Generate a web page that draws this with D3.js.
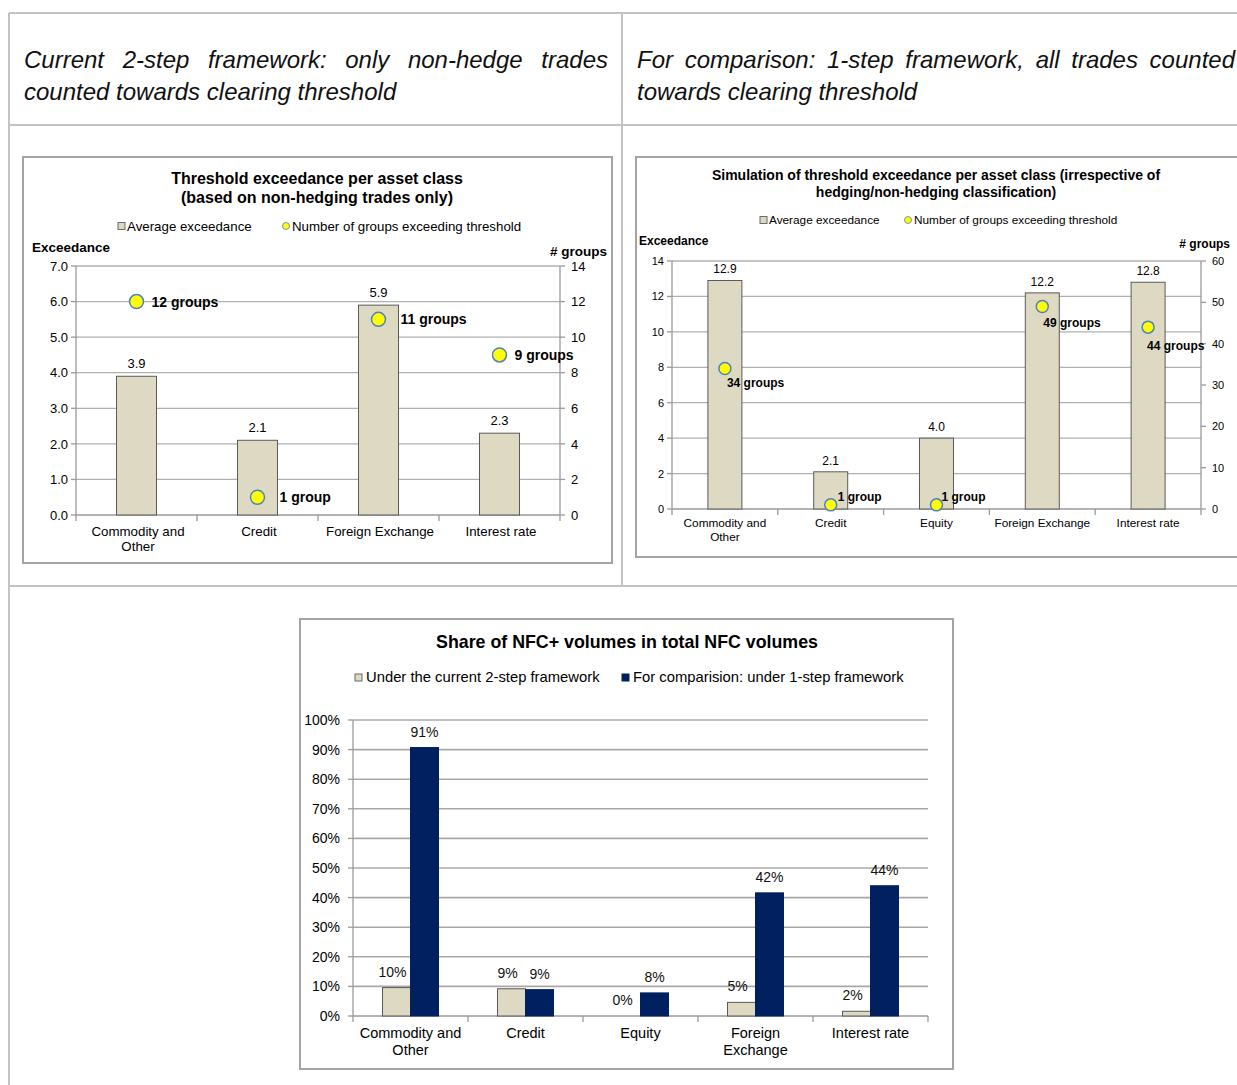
<!DOCTYPE html>
<html>
<head>
<meta charset="utf-8">
<script src="https://cdn.jsdelivr.net/npm/d3@7"></script>
<style>
  html, body { margin: 0; padding: 0; background: #fff; }
  svg { display: block; font-family: "Liberation Sans", Arial, sans-serif; }
</style>
</head>
<body>
<script>
// ---------------- DATA ----------------
const headerLeft = ["Current 2-step framework: only non-hedge trades", "counted towards clearing threshold"];
const headerRight = ["For comparison: 1-step framework, all trades counted", "towards clearing threshold"];

const title1 = ["Threshold exceedance per asset class", "(based on non-hedging trades only)"];
const cats1 = ["Commodity and Other", "Credit", "Foreign Exchange", "Interest rate"];
const exceed1 = [3.9, 2.1, 5.9, 2.3];
const groups1 = [12, 1, 11, 9];
const yTicks1 = [0, 1, 2, 3, 4, 5, 6, 7];
const y2Ticks1 = [0, 2, 4, 6, 8, 10, 12, 14];

const title2 = ["Simulation of threshold exceedance per asset class (irrespective of", "hedging/non-hedging classification)"];
const cats2 = ["Commodity and Other", "Credit", "Equity", "Foreign Exchange", "Interest rate"];
const exceed2 = [12.9, 2.1, 4.0, 12.2, 12.8];
const groups2 = [34, 1, 1, 49, 44];
const yTicks2 = [0, 2, 4, 6, 8, 10, 12, 14];
const y2Ticks2 = [0, 10, 20, 30, 40, 50, 60];

const legendCombo = ["Average exceedance", "Number of groups exceeding threshold"];

const title3 = "Share of NFC+ volumes in total NFC volumes";
const cats3 = ["Commodity and Other", "Credit", "Equity", "Foreign Exchange", "Interest rate"];
const seriesNames3 = ["Under the current 2-step framework", "For comparision: under 1-step framework"];
const share2step = [0.096, 0.092, 0.0, 0.046, 0.016];
const share1step = [0.907, 0.089, 0.078, 0.416, 0.44];
const yTicks3 = [0, 0.1, 0.2, 0.3, 0.4, 0.5, 0.6, 0.7, 0.8, 0.9, 1.0];

// ---------------- STYLE ----------------
const TAN = "#ddd9c3", NAVY = "#002060", GRID = "#b0b0b0", BAR_STROKE = "#5a5a5a";
const YELLOW = "#ffff00", DOT_STROKE = "#4f81bd", TEXT = "#000";

const svg = d3.select("body").append("svg").attr("width", 1237).attr("height", 1085);

// ---------------- TABLE FRAME ----------------
const frame = svg.append("g").attr("stroke", "#c3c3c3").attr("stroke-width", 2);
[[9, 13, 1237, 13], [9, 13, 9, 1085], [622, 13, 622, 586], [9, 125, 1237, 125], [9, 586, 1237, 586]]
  .forEach(([x1, y1, x2, y2]) => frame.append("line").attr("x1", x1).attr("y1", y1).attr("x2", x2).attr("y2", y2));

function justified(lines, x, width, y0, lh, size) {
  const g = svg.append("g").attr("font-size", size).attr("font-style", "italic").attr("fill", "#111");
  lines.forEach((line, i) => {
    const words = line.split(" ");
    const y = y0 + i * lh;
    const isLast = i === lines.length - 1;
    const nodes = words.map(w => g.append("text").attr("y", y).text(w));
    const widths = nodes.map(n => n.node().getComputedTextLength());
    const total = d3.sum(widths);
    const gap = isLast ? size * 0.278 : (width - total) / (words.length - 1);
    let cx = x;
    nodes.forEach((n, k) => { n.attr("x", cx); cx += widths[k] + gap; });
  });
}
justified(headerLeft, 24, 584, 68, 31.5, 24);
justified(headerRight, 637, 598, 68, 31.5, 24);

// wrap helper
function wrapLabel(sel, text, maxW, lh) {
  const words = text.split(" ");
  const lines = [];
  let cur = [];
  const probe = sel.append("tspan");
  words.forEach(w => {
    const test = cur.concat([w]).join(" ");
    probe.text(test);
    if (probe.node().getComputedTextLength() > maxW && cur.length) { lines.push(cur.join(" ")); cur = [w]; }
    else cur.push(w);
  });
  lines.push(cur.join(" "));
  probe.remove();
  lines.forEach((l, i) => sel.append("tspan").attr("x", sel.attr("x")).attr("dy", i === 0 ? 0 : lh).text(l));
}

// ---------------- COMBO CHART ----------------
function comboChart(o) {
  const g = svg.append("g");
  g.append("rect").attr("x", o.box[0]).attr("y", o.box[1]).attr("width", o.box[2]).attr("height", o.box[3])
    .attr("fill", "#fff").attr("stroke", "#a3a3a3").attr("stroke-width", 2);
  o.title.forEach((t, i) => g.append("text").attr("x", o.titleX).attr("y", o.titleY + i * o.titleLH)
    .attr("text-anchor", "middle").attr("font-weight", "bold").attr("font-size", o.titleSize).text(t));
  // legend
  const lg = g.append("g").attr("font-size", o.legSize);
  lg.append("rect").attr("x", o.leg[0]).attr("y", o.legY - 3.5).attr("width", 7).attr("height", 7)
    .attr("fill", TAN).attr("stroke", "#6b6b6b").attr("stroke-width", 1);
  lg.append("text").attr("x", o.leg[0] + 9).attr("y", o.legY + o.legSize * 0.36).text(legendCombo[0]);
  lg.append("circle").attr("cx", o.leg[1]).attr("cy", o.legY).attr("r", 3.5).attr("fill", YELLOW).attr("stroke", DOT_STROKE).attr("stroke-width", 0.8);
  lg.append("text").attr("x", o.leg[1] + 6).attr("y", o.legY + o.legSize * 0.36).text(legendCombo[1]);
  // axis titles
  g.append("text").attr("x", o.axTitle[0]).attr("y", o.axTitle[1]).attr("font-weight", "bold").attr("font-size", o.axTitleSize).text("Exceedance");
  g.append("text").attr("x", o.axTitle[2]).attr("y", o.axTitle[3]).attr("text-anchor", "end").attr("font-weight", "bold").attr("font-size", o.axTitleSize).text("# groups");

  const x = d3.scaleBand().domain(o.cats).range([o.left, o.right]);
  const y = d3.scaleLinear().domain([0, d3.max(o.yTicks)]).range([o.bottom, o.top]);
  const y2 = d3.scaleLinear().domain([0, d3.max(o.y2Ticks)]).range([o.bottom, o.top]);

  // gridlines
  g.append("g").selectAll("line").data(o.yTicks.slice(1)).join("line")
    .attr("x1", o.left).attr("x2", o.right).attr("y1", d => y(d)).attr("y2", d => y(d))
    .attr("stroke", GRID).attr("stroke-width", 1.3);

  const ax = g.append("g").attr("stroke", "#9a9a9a").attr("stroke-width", 1.3);
  ax.append("line").attr("x1", o.left).attr("x2", o.left).attr("y1", o.top).attr("y2", o.bottom);
  ax.append("line").attr("x1", o.right).attr("x2", o.right).attr("y1", o.top).attr("y2", o.bottom);
  ax.append("line").attr("x1", o.left).attr("x2", o.right).attr("y1", o.bottom).attr("y2", o.bottom);
  o.yTicks.forEach(t => ax.append("line").attr("x1", o.left - 5).attr("x2", o.left).attr("y1", y(t)).attr("y2", y(t)));
  o.y2Ticks.forEach(t => ax.append("line").attr("x1", o.right).attr("x2", o.right + 5).attr("y1", y2(t)).attr("y2", y2(t)));
  o.cats.forEach(c => ax.append("line").attr("x1", x(c)).attr("x2", x(c)).attr("y1", o.bottom).attr("y2", o.bottom + 6));
  ax.append("line").attr("x1", o.right).attr("x2", o.right).attr("y1", o.bottom).attr("y2", o.bottom + 6);

  const tl = g.append("g").attr("font-size", o.tickSize).attr("fill", TEXT);
  o.yTicks.forEach(t => tl.append("text").attr("x", o.left - 8).attr("y", y(t) + o.tickSize * 0.36)
    .attr("text-anchor", "end").text(d3.format(o.yFmt)(t)));
  o.y2Ticks.forEach(t => tl.append("text").attr("x", o.right + 11).attr("y", y2(t) + o.tickSize * 0.36).text(t));

  // x labels
  o.cats.forEach(c => {
    const t = g.append("text").attr("x", x(c) + x.bandwidth() / 2 + o.xLabShift).attr("y", o.xLabY)
      .attr("text-anchor", "middle").attr("font-size", o.xLabSize);
    wrapLabel(t, c, x.bandwidth() - 6, o.xLabLH);
  });

  const cx = c => x(c) + x.bandwidth() / 2;
  // bars
  g.append("g").selectAll("rect").data(o.cats).join("rect")
    .attr("x", c => cx(c) - o.barW / 2).attr("width", o.barW)
    .attr("y", (c, i) => y(o.bars[i])).attr("height", (c, i) => o.bottom - y(o.bars[i]))
    .attr("fill", TAN).attr("stroke", BAR_STROKE).attr("stroke-width", 1);
  g.append("g").selectAll("text").data(o.cats).join("text")
    .attr("x", cx).attr("y", (c, i) => y(o.bars[i]) - o.valOff)
    .attr("text-anchor", "middle").attr("font-size", o.valSize).text((c, i) => d3.format(".1f")(o.bars[i]));
  // dots
  g.append("g").selectAll("circle").data(o.cats).join("circle")
    .attr("cx", cx).attr("cy", (c, i) => y2(o.dots[i])).attr("r", o.dotR)
    .attr("fill", YELLOW).attr("stroke", DOT_STROKE).attr("stroke-width", 1.5);
  g.append("g").selectAll("text").data(o.cats).join("text")
    .attr("x", (c, i) => cx(c) + o.dotLabOff(i, y2(o.dots[i]) >= y(o.bars[i]))[0])
    .attr("y", (c, i) => y2(o.dots[i]) + o.dotLabOff(i, y2(o.dots[i]) >= y(o.bars[i]))[1])
    .attr("font-weight", "bold").attr("font-size", o.dotLabSize)
    .text((c, i) => o.dots[i] + (o.dots[i] === 1 ? " group" : " groups"));
}

comboChart({
  box: [23, 157, 589, 406], title: title1, titleX: 317, titleY: 184, titleLH: 19, titleSize: 16,
  leg: [118, 286], legY: 226, legSize: 13.3, axTitle: [32, 252, 607, 256], axTitleSize: 13.5,
  cats: cats1, bars: exceed1, dots: groups1, yTicks: yTicks1, y2Ticks: y2Ticks1, yFmt: ".1f",
  left: 76, right: 560, top: 266, bottom: 515, tickSize: 13,
  xLabY: 536, xLabLH: 15, xLabSize: 13.3, xLabShift: 1.5, barW: 40, valOff: 8, valSize: 13,
  dotR: 7, dotLabSize: 14,
  dotLabOff: (i, inside) => inside ? [22, 5] : [15, 5]
});

comboChart({
  box: [636, 157, 620, 400], title: title2, titleX: 936, titleY: 180, titleLH: 17, titleSize: 14,
  leg: [760, 908], legY: 220, legSize: 11.8, axTitle: [639, 245, 1230, 248], axTitleSize: 12,
  cats: cats2, bars: exceed2, dots: groups2, yTicks: yTicks2, y2Ticks: y2Ticks2, yFmt: "d",
  left: 672, right: 1201, top: 261, bottom: 509, tickSize: 11,
  xLabY: 527, xLabLH: 14, xLabSize: 11.8, xLabShift: 0, barW: 34, valOff: 7, valSize: 12,
  dotR: 6, dotLabSize: 12,
  dotLabOff: (i) => [[2, 19], [7, -4], [5, -4], [1, 21], [-1, 23]][i]
});

// ---------------- GROUPED BAR CHART ----------------
(function () {
  const g = svg.append("g");
  g.append("rect").attr("x", 300).attr("y", 619).attr("width", 653).attr("height", 450)
    .attr("fill", "#fff").attr("stroke", "#a3a3a3").attr("stroke-width", 2);
  g.append("text").attr("x", 627).attr("y", 648).attr("text-anchor", "middle")
    .attr("font-weight", "bold").attr("font-size", 17.8).text(title3);
  const legX = [355, 622], cols = [TAN, NAVY];
  seriesNames3.forEach((s, i) => {
    g.append("rect").attr("x", legX[i]).attr("y", 674).attr("width", 7).attr("height", 7)
      .attr("fill", cols[i]).attr("stroke", i === 0 ? "#6b6b6b" : NAVY).attr("stroke-width", 1);
    g.append("text").attr("x", legX[i] + 11).attr("y", 682).attr("font-size", 14.8).text(s);
  });
  const left = 353, right = 928, top = 720, bottom = 1016;
  const x0 = d3.scaleBand().domain(cats3).range([left, right]);
  const bw = 28;
  const y = d3.scaleLinear().domain([0, 1]).range([bottom, top]);
  g.append("g").selectAll("line").data(yTicks3.slice(1)).join("line")
    .attr("x1", left).attr("x2", right).attr("y1", d => y(d)).attr("y2", d => y(d))
    .attr("stroke", "#a8a8a8").attr("stroke-width", 1.6);
  const ax = g.append("g").attr("stroke", "#9a9a9a").attr("stroke-width", 1.3);
  ax.append("line").attr("x1", left).attr("x2", left).attr("y1", top).attr("y2", bottom);
  ax.append("line").attr("x1", left).attr("x2", right).attr("y1", bottom).attr("y2", bottom);
  yTicks3.forEach(t => ax.append("line").attr("x1", left - 5).attr("x2", left).attr("y1", y(t)).attr("y2", y(t)));
  cats3.forEach(c => ax.append("line").attr("x1", x0(c)).attr("x2", x0(c)).attr("y1", bottom).attr("y2", bottom + 6));
  ax.append("line").attr("x1", right).attr("x2", right).attr("y1", bottom).attr("y2", bottom + 6);
  yTicks3.forEach(t => g.append("text").attr("x", 340).attr("y", y(t) + 5).attr("text-anchor", "end")
    .attr("font-size", 14).text(d3.format(".0%")(t)));
  cats3.forEach(c => {
    const t = g.append("text").attr("x", x0(c) + x0.bandwidth() / 2).attr("y", 1038)
      .attr("text-anchor", "middle").attr("font-size", 14.5);
    wrapLabel(t, c, x0.bandwidth() - 6, 17);
  });
  [share2step, share1step].forEach((vals, s) => {
    const bx = c => x0(c) + x0.bandwidth() / 2 - bw + s * bw;
    g.append("g").selectAll("rect").data(cats3).join("rect")
      .attr("x", bx).attr("width", bw)
      .attr("y", (c, i) => y(vals[i])).attr("height", (c, i) => bottom - y(vals[i]))
      .attr("fill", cols[s]).attr("stroke", s === 0 ? BAR_STROKE : NAVY).attr("stroke-width", 1)
      .attr("display", (c, i) => vals[i] > 0 ? null : "none");
    g.append("g").selectAll("text").data(cats3).join("text")
      .attr("x", c => bx(c) + bw / 2 - (s === 0 ? 4 : 0)).attr("y", (c, i) => y(vals[i]) - 11)
      .attr("text-anchor", "middle").attr("font-size", 14).attr("fill", "#111")
      .text((c, i) => d3.format(".0%")(vals[i]));
  });
})();
</script>
</body>
</html>
